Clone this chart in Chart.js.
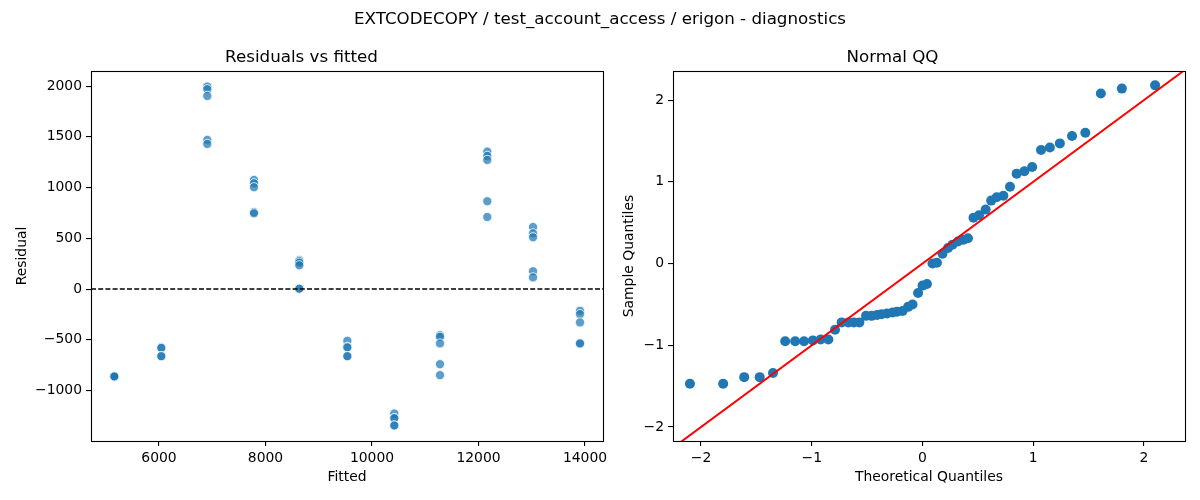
<!DOCTYPE html>
<html><head><meta charset="utf-8">
<script src="https://cdn.jsdelivr.net/npm/chart.js@4.4.0/dist/chart.umd.min.js"></script>
<style>
html,body{margin:0;padding:0;background:#fff;}
#wrap{position:relative;width:1200px;height:500px;overflow:hidden;font-family:"DejaVu Sans",sans-serif;}
#sup{position:absolute;left:0;top:8px;width:1200px;text-align:center;font-size:16.7px;line-height:20px;color:#000;}
#c1wrap{position:absolute;left:0;top:0;width:620px;height:500px;}
#c2wrap{position:absolute;left:600px;top:0;width:600px;height:500px;}
</style></head>
<body>
<div id="wrap">
  <div id="c1wrap"><canvas id="c1" width="620" height="500"></canvas></div>
  <div id="c2wrap"><canvas id="c2" width="600" height="500"></canvas></div>
  <div id="sup">EXTCODECOPY / test_account_access / erigon - diagnostics</div>
</div>
<script>
// ---- data ----
const fittedValues = [
  5161,5161,5161,5161,5161,
  6043,6043,6043,6043,
  6907,6907,6907,6907,6907,
  7784,7784,7784,7784,7784,
  8635,8635,8635,8635,8635,8635,
  9537,9537,9537,9537,9537,
  10419,10419,10419,10419,10419,
  11277,11277,11277,11277,11277,
  12165,12165,12165,12165,12165,
  13024,13024,13024,13024,13024,
  13906,13906,13906,13906,13906
];
const residuals = [
  -865,-865,-865,-865,-860,
  -575,-580,-661,-661,
  1995,1969,1903,1469,1430,
  1075,1042,1003,759,746,
  286,275,260,234,5,3,
  -510,-569,-575,-661,-661,
  -1226,-1272,-1272,-1344,-1344,
  -454,-470,-536,-740,-848,
  1354,1312,1272,865,710,
  611,549,510,175,115,
  -214,-247,-329,-536,-536
];
const theoreticalQuantiles = [
  -2.10,-1.80,-1.61,-1.47,-1.35,-1.24,-1.15,-1.07,-0.99,-0.92,-0.85,-0.79,-0.73,-0.67,-0.62,-0.57,
  -0.51,-0.46,-0.41,-0.37,-0.32,-0.27,-0.23,-0.18,-0.13,-0.09,-0.04,0.00,0.04,0.09,0.13,0.18,
  0.23,0.27,0.32,0.37,0.41,0.46,0.51,0.57,0.62,0.67,0.73,0.79,0.85,0.92,0.99,1.07,1.15,1.24,
  1.35,1.47,1.61,1.80,2.10
];
const sampleQuantiles = [
  -1.47,-1.47,-1.39,-1.39,-1.34,
  -0.95,-0.95,-0.95,-0.94,-0.93,-0.93,
  -0.81,
  -0.72,-0.72,-0.72,-0.72,
  -0.64,-0.64,-0.63,-0.62,-0.61,-0.60,-0.59,-0.58,-0.53,-0.50,
  -0.36,-0.27,-0.25,
  0.00,0.01,
  0.12,0.19,0.23,0.27,0.29,0.31,
  0.56,0.59,0.66,
  0.77,0.81,0.83,
  0.94,
  1.10,1.13,1.18,
  1.39,1.42,1.47,
  1.56,1.60,
  2.08,2.14,2.18
];
const leftXTicks = [6000, 8000, 10000, 12000, 14000];
const leftYTicks = [-1000, -500, 0, 500, 1000, 1500, 2000];
const rightXTicks = [-2, -1, 0, 1, 2];
const rightYTicks = [-2, -1, 0, 1, 2];
const leftXRange = [4723, 14338];
const leftYRange = [-1497, 2148];
const rightXRange = [-2.253, 2.37];
const rightYRange = [-2.171, 2.355];

// ---- rendering ----
Chart.defaults.font.family = '"DejaVu Sans", sans-serif';
Chart.defaults.font.size = 13.9;
Chart.defaults.color = '#000';

const fmt = v => (v < 0 ? '\u2212' + Math.abs(v) : String(v));

const framePlugin = {
  id: 'frame',
  afterDraw(chart) {
    const {ctx, chartArea: a} = chart;
    ctx.save();
    ctx.strokeStyle = '#000';
    ctx.lineWidth = 1.1;
    ctx.strokeRect(Math.round(a.left) + 0.5, Math.round(a.top) + 0.5,
                   Math.round(a.right - a.left), Math.round(a.bottom - a.top));
    ctx.restore();
  }
};

function axis(range, ticks, title, isX, fitSize, titlePad) {
  return {
    type: 'linear',
    min: range[0], max: range[1],
    afterBuildTicks: s => { s.ticks = ticks.map(v => ({value: v})); },
    afterFit: s => { if (isX) s.height = fitSize; else s.width = fitSize; },
    ticks: {callback: v => fmt(v), color: '#000', padding: 4, maxRotation: 0, autoSkip: false,
            font: {size: 13.9}},
    grid: {display: true, drawOnChartArea: false, drawTicks: true, tickLength: 5,
           color: '#000', lineWidth: 1.1},
    border: {display: false},
    title: {display: true, text: title, color: '#000', font: {size: 13.9},
            padding: isX ? {top: 0, bottom: titlePad} : {top: titlePad, bottom: 0}}
  };
}

function titleOpts(text) {
  return {display: true, text: text, color: '#000',
          font: {size: 16.7, weight: 'normal'}, padding: {top: 47.5, bottom: 3.5}};
}

new Chart(document.getElementById('c1'), {
  data: {
    datasets: [
      {type: 'line', data: [{x: leftXRange[0], y: 0}, {x: leftXRange[1], y: 0}],
       borderColor: '#000', borderWidth: 1.4, borderDash: [5, 2.2], pointRadius: 0, order: 0},
      {type: 'scatter', data: residuals.map((r, i) => ({x: fittedValues[i], y: r})),
       backgroundColor: 'rgba(31,119,180,0.72)', borderColor: '#ffffff', borderWidth: 0.8,
       pointRadius: 4.6, pointHoverRadius: 4.6, order: 1}
    ]
  },
  options: {
    responsive: false, animation: false, devicePixelRatio: 1,
    layout: {padding: {left: 0, right: 17, top: 0, bottom: 0}},
    plugins: {legend: {display: false}, tooltip: {enabled: false}, title: titleOpts('Residuals vs fitted')},
    scales: {
      x: axis(leftXRange, leftXTicks, 'Fitted', true, 59, 14.7),
      y: axis(leftYRange, leftYTicks, 'Residual', false, 91, 13.7)
    }
  },
  plugins: [framePlugin]
});

new Chart(document.getElementById('c2'), {
  data: {
    datasets: [
      {type: 'line', data: [{x: rightXRange[0] - 1, y: rightXRange[0] - 1}, {x: rightXRange[1] + 1, y: rightXRange[1] + 1}],
       borderColor: '#ff0000', borderWidth: 2, pointRadius: 0, order: 0},
      {type: 'scatter', data: sampleQuantiles.map((q, i) => ({x: theoreticalQuantiles[i], y: q})),
       backgroundColor: '#1f77b4', borderColor: '#1f77b4', borderWidth: 0,
       pointRadius: 5, pointHoverRadius: 5, order: 1}
    ]
  },
  options: {
    responsive: false, animation: false, devicePixelRatio: 1,
    layout: {padding: {left: 0, right: 15, top: 0, bottom: 0}},
    plugins: {legend: {display: false}, tooltip: {enabled: false}, title: titleOpts('Normal QQ')},
    scales: {
      x: axis(rightXRange, rightXTicks, 'Theoretical Quantiles', true, 59, 14.7),
      y: axis(rightYRange, rightYTicks, 'Sample Quantiles', false, 73, 20.7)
    }
  },
  plugins: [framePlugin]
});
</script>
</body></html>
